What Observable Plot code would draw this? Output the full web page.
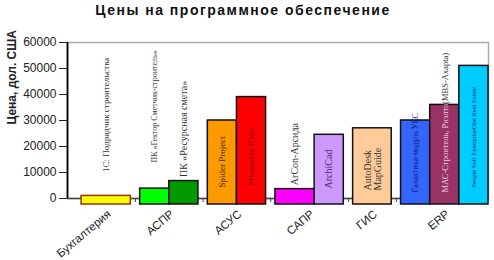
<!DOCTYPE html>
<html>
<head>
<meta charset="utf-8">
<script src="https://cdn.jsdelivr.net/npm/d3@7"></script>
<script src="https://cdn.jsdelivr.net/npm/@observablehq/plot@0.6"></script>
<style>
  html, body { margin: 0; padding: 0; background: #fff; }
  #title { width: 494px; height: 26px; box-sizing: border-box; padding-top: 2px; padding-right: 8px;
           text-align: center; font: bold 14px "Liberation Sans", Arial, sans-serif; line-height: 16px;
           letter-spacing: 1.5px; color: #111; }
</style>
</head>
<body>
<div id="title">Цены на программное обеспечение</div>
<div id="chart"></div>
<script>
// ---- data ----
const categories = ["Бухгалтерия", "АСПР", "АСУС", "САПР", "ГИС", "ERP"];
const productNames = [
  "1С: Подрядчик строительства",
  "ПК «Гектор Сметчик-строитель»",
  "ПК «Ресурсная смета»",
  "Spider Project",
  "Primavera P3e/c",
  "ArCon-Арсида",
  "ArchiCad",
  "AutoDesk\nMapGuide",
  "Галактика-модуль УКС",
  "МАС-Строитель, Риэлтор",
  "People Soft EnterpriseOne Real Estate"
];
const productGroup = ["Бухгалтерия", "АСПР", "АСПР", "АСУС", "АСУС", "САПР", "САПР", "ГИС", "ERP", "ERP", "ERP"];
const prices = [1000, 3800, 6700, 30000, 39000, 3600, 24500, 27000, 30000, 36000, 51000];
const productNotes = ["", "", "", "", "", "", "", "", "", "(MBS-Axapta)", ""];
const yTicks = [0, 10000, 20000, 30000, 40000, 50000, 60000];
const yTitle = "Цена, дол. США";

// ---- layout & style (not data) ----
const BAR_W = 29, GAP = 9.3, LEAD = 14;
const wideBars = {0: 49, 5: 39, 7: 38.4};
const fills = ["#FFFF00", "#00FF00", "#009900", "#FF9900", "#FF0000", "#FF00FF", "#CC99FF", "#FFCC99", "#3366FF", "#993366", "#00CCFF"];
const strokes = ["#993300", "#111", "#111", "#111", "#111", "#111", "#111", "#111", "#111", "#111", "#111"];
const labelAbove = [true, true, true, false, false, true, false, false, false, false, false];
const labelLift = [24, 26, 4, 11, 13, 4, 10, 8, 6, 6, 11];
const labelSize = [9, 8, 10, 9, 9, 10, 10, 10, 8, 8.5, 6.5];
const labelColor = ["#333", "#333", "#333", "#3a2a10", "#7a0000", "#333", "#4b2a66", "#333", "#0d1a5c", "#ecd4e0", "#12306e"];
const Y_MAX = 60000, PLOT_H = 156;
const unitsPerPx = Y_MAX / PLOT_H;

// compute bar positions
let cursor = LEAD;
const rows = [];
let prevGroup = null;
productNames.forEach((name, i) => {
  if (prevGroup !== null && productGroup[i] !== prevGroup) cursor += GAP;
  const w = wideBars[i] ?? BAR_W;
  rows.push({i, name, group: productGroup[i], price: prices[i], x1: cursor, x2: cursor + w, xc: cursor + w / 2});
  cursor += w;
  prevGroup = productGroup[i];
});
const total = cursor;

const groups = categories.map(c => {
  const rs = rows.filter(r => r.group === c);
  return {name: c, xc: (d3.min(rs, r => r.x1) + d3.max(rs, r => r.x2)) / 2, x1: d3.min(rs, r => r.x1), x2: d3.max(rs, r => r.x2)};
});
const separators = groups.slice(1).map((g, k) => (groups[k].x2 + g.x1) / 2);

const labels = rows.map(r => ({
  ...r,
  ly: (labelAbove[r.i] ? r.price : 0) + labelLift[r.i] * unitsPerPx
}));
const notes = rows.filter(r => productNotes[r.i]).map(r => ({...r, note: productNotes[r.i], ly: r.price + 1 * unitsPerPx}));

const chart = Plot.plot({
  width: 494,
  height: 234,
  marginTop: 16,
  marginLeft: 67,
  marginRight: 6,
  marginBottom: 62,
  style: {fontFamily: "Liberation Sans, Arial, sans-serif", fontSize: "12px", color: "#222", background: "#fff", overflow: "visible"},
  x: {domain: [0, total], axis: null},
  y: {domain: [0, Y_MAX], ticks: yTicks, tickFormat: d3.format("d"), tickSize: 8, tickPadding: 3, label: null},
  color: {type: "identity"},
  marks: [
    Plot.frame({stroke: "#aaa", strokeWidth: 1.5}),
    Plot.ruleY([0], {stroke: "#444", strokeWidth: 1.5}),
    Plot.ruleX(separators, {x: d => d, y1: 0, y2: -4 * unitsPerPx, stroke: "#444", strokeWidth: 1}),
    Plot.rectY(rows, {x1: "x1", x2: "x2", y1: 0, y2: "price", fill: d => fills[d.i], stroke: d => strokes[d.i], strokeWidth: 1.5, insetBottom: -6}),
    Plot.ruleX([0], {stroke: "#000", strokeWidth: 1.8}),
    Plot.text(labels, {x: "xc", y: "ly", text: "name", rotate: -90, textAnchor: "start", lineAnchor: "middle",
      fontFamily: "Liberation Serif, Times New Roman, serif", fontSize: d => labelSize[d.i], fill: d => labelColor[d.i]}),
    Plot.text(notes, {x: "xc", y: "ly", text: "note", rotate: -90, textAnchor: "start", lineAnchor: "middle",
      fontFamily: "Liberation Serif, Times New Roman, serif", fontSize: 8.5, fill: "#333"}),
    Plot.text(groups, {x: "xc", y: 0, text: "name", rotate: -40, textAnchor: "end", dy: 14, dx: 3,
      fontSize: 11.5, fill: "#222"}),
    Plot.text([yTitle], {frameAnchor: "left", rotate: -90, dx: -55, dy: 4, fontSize: 12, fontWeight: "bold", fill: "#222"})
  ]
});
document.getElementById("chart").appendChild(chart);
</script>
</body>
</html>
